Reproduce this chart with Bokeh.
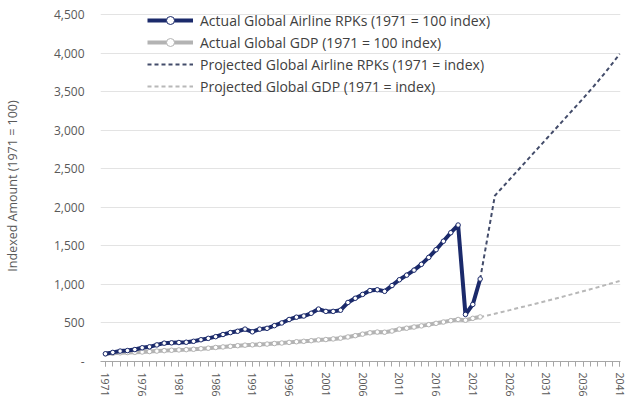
from bokeh.plotting import figure
from bokeh.models import (Range1d, FixedTicker, NumeralTickFormatter, Legend, LegendItem)
from bokeh.embed import file_html
from bokeh.resources import INLINE

# ---- data ----
years_actual = list(range(1971, 2023))
rpk_actual = [100, 118, 135, 142, 155, 178, 190, 215, 238, 242,
              246, 250, 262, 282, 300, 322, 350, 375, 392, 420,
              385, 420, 430, 465, 500, 545, 575, 590, 625, 680,
              650, 650, 665, 765, 820, 870, 920, 930, 910, 985,
              1060, 1120, 1185, 1260, 1350, 1450, 1560, 1670, 1770, 610,
              740, 1070]
gdp_actual = [100, 106, 112, 116, 119, 123, 129, 135, 141, 146,
              150, 154, 159, 166, 173, 182, 189, 197, 205, 212,
              216, 221, 226, 233, 240, 248, 256, 262, 270, 280,
              285, 293, 303, 318, 335, 355, 372, 382, 380, 395,
              420, 432, 447, 462, 478, 495, 512, 530, 545, 535,
              560, 578]
years_proj = list(range(2022, 2042))
rpk_proj = [1070, 1610, 2150, 2255, 2360, 2465, 2570, 2675, 2780, 2885,
            2990, 3095, 3200, 3305, 3410, 3520, 3630, 3745, 3865, 3990]
gdp_proj = [578, 597, 620, 643, 666, 690, 713, 737, 761, 786,
            810, 835, 860, 885, 911, 937, 963, 990, 1017, 1045]
y_ticks = [0, 500, 1000, 1500, 2000, 2500, 3000, 3500, 4000, 4500]
x_label_years = list(range(1971, 2042, 5))
x_minor_years = list(range(1971, 2042))

labels = ["Actual Global Airline RPKs (1971 = 100 index)",
          "Actual Global GDP (1971 = 100 index)",
          "Projected Global Airline RPKs (1971 = index)",
          "Projected Global GDP (1971 = index)"]

NAVY = "#1b2a6b"
GRAY = "#b3b3b3"
PROJ_NAVY = "#434c6a"
PROJ_GRAY = "#b8b8b8"
FONT = "Open Sans"
TXT = "#595959"

p = figure(width=628, height=403, output_backend="svg", toolbar_location=None,
           x_range=Range1d(1970.33, 2041.1), y_range=Range1d(0, 4552),
           min_border_left=100, min_border_right=8, min_border_top=10, min_border_bottom=42)
p.outline_line_color = None
p.background_fill_color = "white"
p.border_fill_color = "white"

# axes
p.yaxis.ticker = FixedTicker(ticks=y_ticks)
p.yaxis.formatter = NumeralTickFormatter(format="0,0")
p.yaxis.major_label_overrides = {0: "-"}
p.yaxis.axis_line_color = None
p.yaxis.major_tick_line_color = None
p.yaxis.minor_tick_line_color = None
p.yaxis.major_label_standoff = 10
p.yaxis.major_label_text_font = FONT
p.yaxis.major_label_text_font_size = "12px"
p.yaxis.major_label_text_color = TXT
p.yaxis.axis_label = "Indexed Amount (1971 = 100)"
p.yaxis.axis_label_text_font = FONT
p.yaxis.axis_label_text_font_size = "12.5px"
p.yaxis.axis_label_text_font_style = "normal"
p.yaxis.axis_label_text_color = TXT
p.yaxis.axis_label_standoff = 30

p.xaxis.ticker = FixedTicker(ticks=x_label_years, minor_ticks=x_minor_years)
p.xaxis.axis_line_color = "#a6a6a6"
p.xaxis.major_tick_line_color = "#a6a6a6"
p.xaxis.minor_tick_line_color = "#a6a6a6"
p.xaxis.major_tick_in = 0
p.xaxis.major_tick_out = 5
p.xaxis.minor_tick_in = 0
p.xaxis.minor_tick_out = 5
p.xaxis.major_label_orientation = "vertical"
p.xaxis.major_label_standoff = 6
p.xaxis.major_label_text_font = FONT
p.xaxis.major_label_text_font_size = "10.5px"
p.xaxis.major_label_text_color = TXT

p.xgrid.grid_line_color = None
p.ygrid.ticker = FixedTicker(ticks=y_ticks[1:])
p.ygrid.grid_line_color = "#e3e3e3"
p.ygrid.grid_line_width = 1

# glyphs
r_gdp_proj = p.line(years_proj, gdp_proj, line_color=PROJ_GRAY, line_width=2, line_dash="4 3")
r_rpk_proj = p.line(years_proj, rpk_proj, line_color=PROJ_NAVY, line_width=2, line_dash="4 3")
r_gdp = p.line(years_actual, gdp_actual, line_color=GRAY, line_width=4)
r_gdp_m = p.scatter(years_actual, gdp_actual, size=4.5, fill_color="white", line_color=GRAY, line_width=1)
r_rpk = p.line(years_actual, rpk_actual, line_color=NAVY, line_width=4)
r_rpk_m = p.scatter(years_actual, rpk_actual, size=4.5, fill_color="white", line_color=NAVY, line_width=1)

legend = Legend(items=[
    LegendItem(label=labels[0], renderers=[r_rpk, r_rpk_m]),
    LegendItem(label=labels[1], renderers=[r_gdp, r_gdp_m]),
    LegendItem(label=labels[2], renderers=[r_rpk_proj]),
    LegendItem(label=labels[3], renderers=[r_gdp_proj]),
], location=(47, 265))
legend.label_text_font = FONT
legend.label_text_font_size = "14px"
legend.label_text_color = "#404040"
legend.glyph_width = 46
legend.glyph_height = 20
legend.label_height = 20
legend.label_standoff = 7
legend.spacing = 2
legend.padding = 0
legend.margin = 0
legend.border_line_color = None
legend.background_fill_alpha = 0
p.add_layout(legend)

open("out.html", "w").write(file_html(p, INLINE))
